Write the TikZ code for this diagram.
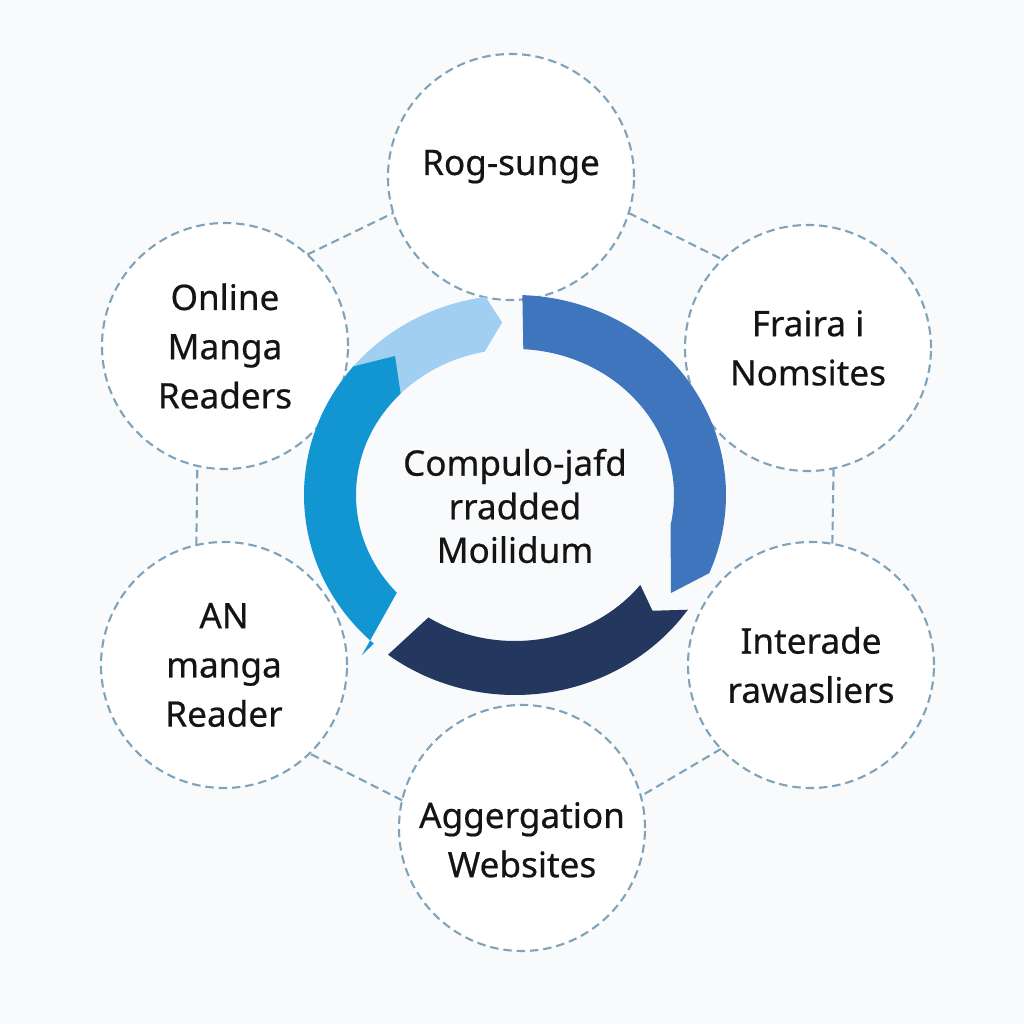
\documentclass[tikz,border=0pt]{standalone}
\usepackage{fontspec}
\setmainfont{Noto Sans}[FakeBold=0.5]
\usepackage{xcolor}
\usepackage{tikz}
\definecolor{RingLight}{HTML}{A0CFF2}
\definecolor{RingCyan}{HTML}{1196D2}
\definecolor{RingMid}{HTML}{3E75BD}
\definecolor{RingDark}{HTML}{23375F}
\definecolor{DashLine}{HTML}{7FA3BA}
\definecolor{PaperBg}{HTML}{F9FAFB}
\tikzset{
  topic/.style={circle,draw=DashLine,fill=white,line width=0.6pt,dash pattern=on 2.4pt off 1.4pt,minimum size=2.46cm,inner sep=0pt,outer sep=0pt,align=center,text=black!92,font=\fontsize{10}{14}\selectfont},
  link/.style={draw=DashLine,line width=0.6pt,dash pattern=on 2.4pt off 1.4pt},
}

\begin{document}
\begin{tikzpicture}
\fill[PaperBg] (0,0) rectangle (10.24,10.24);
\useasboundingbox (0,0) rectangle (10.24,10.24);
\node[topic] (online) at (2.25,6.78) {Online\\Manga\\Readers};
\node[topic] (rogsunge) at (5.11,8.47) {\raisebox{0.02cm}[0pt][0pt]{Rog-sunge}};
\node[topic] (fraira) at (8.08,6.76) {Fraira i\\Nomsites};
\node[topic] (interade) at (8.11,3.59) {Interade\\rawasliers};
\node[topic] (aggr) at (5.22,1.96) {\raisebox{0pt}[0pt][0pt]{\begin{tabular}[t]{@{}c@{}}Aggergation\\Websites\end{tabular}}};
\node[topic] (anmanga) at (2.24,3.59) {AN\\manga\\Reader};
\draw[link] (online.48) -- (rogsunge.197);
\draw[link] (rogsunge.343) -- (fraira.134);
\draw[link] (fraira.282) -- (interade.80);
\draw[link] (interade.223) -- (aggr.15);
\draw[link] (aggr.167) -- (anmanga.314);
\draw[link] (anmanga.103) -- (online.257);
% ring of four arrows
\begin{scope}[shift={(5.15,5.29)}]
\fill[RingLight] (150:2.11cm and 2.00cm) arc[start angle=150,end angle=98,x radius=2.11cm,y radius=2.00cm] -- (94:1.85cm and 1.73cm) -- (101:1.59cm and 1.46cm) arc[start angle=101,end angle=150,x radius=1.59cm,y radius=1.46cm] -- cycle;
\fill[RingCyan] (140:2.11cm and 2.00cm) arc[start angle=140,end angle=228,x radius=2.11cm,y radius=2.00cm] -- (-1.53,-1.60) -- (222:1.59cm and 1.46cm) arc[start angle=222,end angle=136,x radius=1.59cm,y radius=1.46cm] -- (-1.20,1.39) -- cycle;
\fill[RingMid] (88:2.11cm and 2.00cm) arc[start angle=88,end angle=-23,x radius=2.11cm,y radius=2.00cm] -- (1.56,-0.98) -- (-12:1.59cm and 1.46cm) arc[start angle=-12,end angle=87,x radius=1.59cm,y radius=1.46cm] -- cycle;
\fill[RingDark] (-35:2.11cm and 2.00cm) arc[start angle=-35,end angle=-127,x radius=2.11cm,y radius=2.00cm] -- (-123:1.59cm and 1.46cm) arc[start angle=-123,end angle=-38,x radius=1.59cm,y radius=1.46cm] -- (-42:1.85cm and 1.73cm) -- cycle;
\end{scope}
\node[align=center,text=black!92,font=\fontsize{10}{12.4}\selectfont] (hub) at (5.15,5.18) {Compulo-jafd\\rradded\\Moilidum};
\end{tikzpicture}
\end{document}
